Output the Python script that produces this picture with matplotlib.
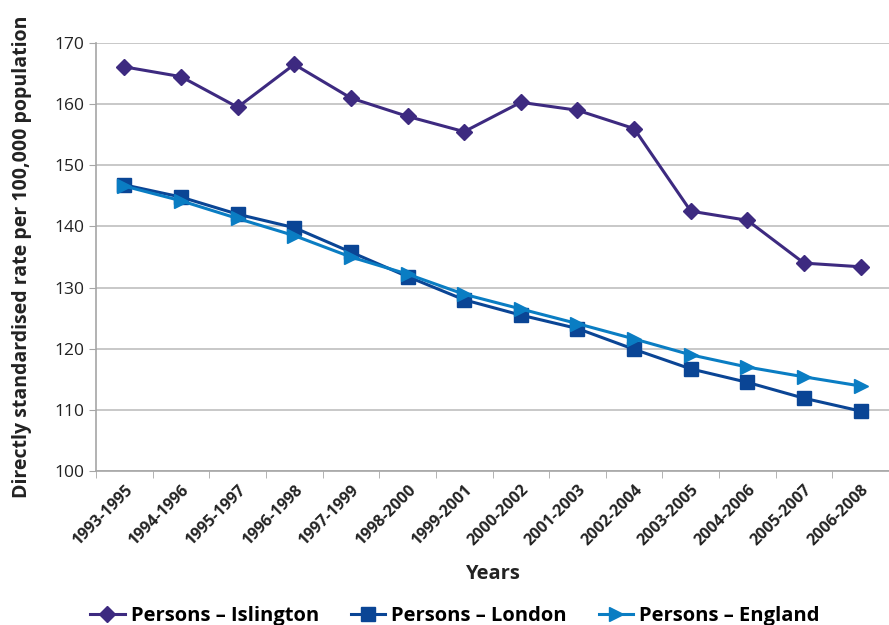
import numpy as np
import matplotlib
matplotlib.use("Agg")
import matplotlib.pyplot as plt
from matplotlib import transforms

plt.rcParams['font.family'] = ['Open Sans', 'DejaVu Sans']

years = ["1993-1995", "1994-1996", "1995-1997", "1996-1998", "1997-1999",
         "1998-2000", "1999-2001", "2000-2002", "2001-2003", "2002-2004",
         "2003-2005", "2004-2006", "2005-2007", "2006-2008"]
islington = [166.1, 164.5, 159.5, 166.5, 161.0, 158.0, 155.5, 160.3, 159.0, 156.0,
             142.5, 141.0, 134.0, 133.4]
london = [146.8, 144.8, 142.0, 139.8, 135.8, 131.8, 128.0, 125.5, 123.3, 119.9,
          116.7, 114.5, 111.9, 109.8]
england = [146.6, 144.2, 141.3, 138.5, 135.0, 132.2, 128.9, 126.5, 124.1, 121.6,
           119.0, 117.0, 115.4, 113.9]

fig = plt.figure(figsize=(8.89, 6.25), dpi=100)
ax = fig.add_axes([0.108, 0.2464, 0.892, 0.6848])

x = np.arange(len(years))
ax.plot(x, islington, color='#3D2A80', marker='D', markersize=8.5, lw=2.2, label='Persons \u2013 Islington', zorder=3)
ax.plot(x, london, color='#0A4595', marker='s', markersize=9.5, lw=2.2, label='Persons \u2013 London', zorder=4)
ax.plot(x, england, color='#0A7DC3', marker='>', markersize=9.5, lw=2.2, label='Persons \u2013 England', zorder=5)

ax.set_ylim(100, 170)
ax.set_yticks(range(100, 171, 10))
ax.set_xlim(-0.5, 13.37)
ax.set_xticks(x)
ax.set_xticklabels(years, rotation=45, ha='right', rotation_mode='anchor',
                   fontsize=11.5, fontweight='bold', color='#222222')
shift = transforms.ScaledTranslation(14 / 100, 0, fig.dpi_scale_trans)
for lab in ax.get_xticklabels():
    lab.set_transform(lab.get_transform() + shift)
ax.set_xticks(np.arange(-0.5, 13.6, 1), minor=True)
ax.tick_params(axis='x', which='major', length=0, pad=8)
ax.tick_params(axis='x', which='minor', length=5, color='#A6A6A6')
ax.tick_params(axis='y', length=5, color='#A6A6A6', labelsize=12.5, labelcolor='#222222')

ax.grid(axis='y', color='#BFBFBF', lw=1.2)
ax.set_axisbelow(True)
for s in ['top', 'right']:
    ax.spines[s].set_visible(False)
for s in ['left', 'bottom']:
    ax.spines[s].set_color('#A6A6A6')
    ax.spines[s].set_linewidth(1.2)

ax.set_ylabel('Directly standardised rate per 100,000 population', fontsize=14,
              fontweight='bold', color='#222222', labelpad=16)
ax.set_xlabel('Years', fontsize=14.5, fontweight='bold', color='#222222', labelpad=11)

fig.legend(loc='lower center', bbox_to_anchor=(0.512, -0.03), ncol=3, frameon=False,
           prop={'weight': 'bold', 'size': 14.5}, handlelength=1.7, columnspacing=1.6,
           handletextpad=0.3)

fig.savefig('out.png', dpi=100)
